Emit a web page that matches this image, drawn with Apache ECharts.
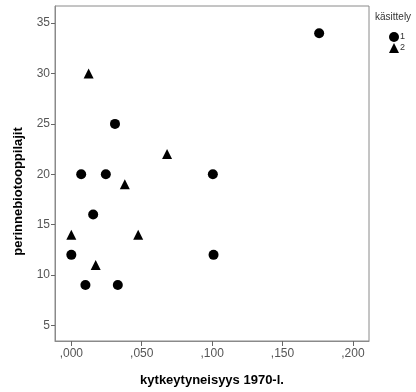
<!DOCTYPE html>
<html><head><meta charset="utf-8">
<script src="https://cdn.jsdelivr.net/npm/echarts@6/dist/echarts.min.js"></script>
<style>html,body{margin:0;padding:0;background:#fff}#c{width:416px;height:392px}</style>
</head><body><div id="c"></div>
<script>
const xTicks = [0, 0.05, 0.10, 0.15, 0.20];
const yTicks = [5, 10, 15, 20, 25, 30, 35];
const group1X = [0.176, 0.031, 0.007, 0.0245, 0.1005, 0.0155, 0.000, 0.101, 0.010, 0.033];
const group1Y = [34, 25, 20, 20, 20, 16, 12, 12, 9, 9];
const group2X = [0.0123, 0.068, 0.038, 0.000, 0.0475, 0.0173];
const group2Y = [30, 22, 19, 14, 14, 11];
const seriesNames = ['1', '2'];

const chart = echarts.init(document.getElementById('c'));
const fmt = v => { const s = v.toFixed(3); return s.replace(/^0\./, ','); };
chart.setOption({
  animation: false,
  textStyle: { fontFamily: 'Liberation Sans, Arial, sans-serif' },
  grid: { left: 55, right: 47, top: 6, bottom: 51, show: true, borderColor: '#8a8a8a', borderWidth: 1 },
  graphic: [{ type: 'text', left: 375, top: 12, style: { text: 'käsittely', fontSize: 10, fill: '#333', fontFamily: 'Liberation Sans, Arial, sans-serif' } }],
  legend: {
    orient: 'vertical', left: 384, top: 27, itemWidth: 10, itemHeight: 10, itemGap: 1,
    itemStyle: { opacity: 1 },
    textStyle: { fontSize: 9, color: '#333', padding: [0, 0, 0, -4] },
    data: [{ name: seriesNames[0], icon: 'circle' }, { name: seriesNames[1], icon: 'triangle' }]
  },
  xAxis: {
    type: 'value', min: -0.0116, max: 0.2114,
    name: 'kytkeytyneisyys 1970-l.', nameLocation: 'middle', nameGap: 33,
    nameTextStyle: { fontSize: 13, fontWeight: 'bold', color: '#000' },
    splitLine: { show: false },
    axisLine: { show: true, onZero: false, lineStyle: { color: '#8a8a8a' } },
    axisTick: { show: true, length: 5, lineStyle: { color: '#666' }, customValues: xTicks },
    axisLabel: { fontSize: 12, color: '#555', margin: 7, customValues: xTicks, formatter: fmt }
  },
  yAxis: {
    type: 'value', min: 3.45, max: 36.7,
    name: 'perinnebiotooppilajit', nameLocation: 'middle', nameGap: 30,
    nameTextStyle: { fontSize: 13, fontWeight: 'bold', color: '#000', padding: [0, 36, 0, 0] },
    splitLine: { show: false },
    axisLine: { show: true, onZero: false, lineStyle: { color: '#8a8a8a' } },
    axisTick: { show: true, length: 4, lineStyle: { color: '#666' }, customValues: yTicks },
    axisLabel: { fontSize: 12, color: '#555', margin: 5, customValues: yTicks }
  },
  series: [
    { name: seriesNames[0], type: 'scatter', symbol: 'circle', symbolSize: 10,
      itemStyle: { color: '#000', opacity: 1 }, data: group1X.map((x, i) => [x, group1Y[i]]) },
    { name: seriesNames[1], type: 'scatter', symbol: 'triangle', symbolSize: 10,
      itemStyle: { color: '#000', opacity: 1 }, data: group2X.map((x, i) => [x, group2Y[i]]) }
  ]
});
</script></body></html>
